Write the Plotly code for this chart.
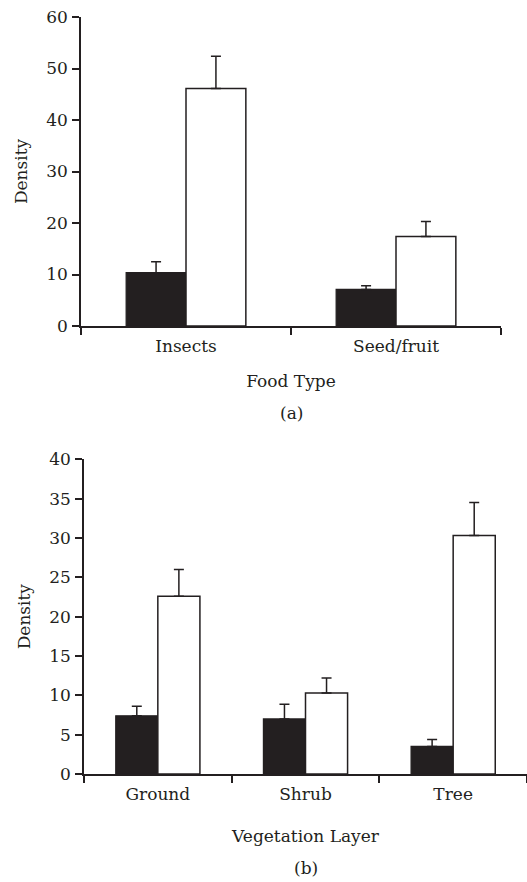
import plotly.graph_objects as go

# ---- data ----
food_types = ["Insects", "Seed/fruit"]
food_dark = [10.35, 7.1]
food_dark_err = [2.15, 0.7]
food_light = [46.1, 17.4]
food_light_err = [6.3, 2.9]

veg_layers = ["Ground", "Shrub", "Tree"]
veg_dark = [7.4, 7.0, 3.5]
veg_dark_err = [1.2, 1.85, 0.9]
veg_light = [22.6, 10.3, 30.3]
veg_light_err = [3.4, 1.9, 4.2]

top_ticks = [0, 10, 20, 30, 40, 50, 60]
bottom_ticks = [0, 5, 10, 15, 20, 25, 30, 35, 40]

W, H = 527, 882
INK = "#231f20"
FONT = "DejaVu Serif"

def px_x(p):
    return p / W

def px_y(p):
    return 1 - p / H

fig = go.Figure()

def add_pair(cats, dark, dark_err, light, light_err, xa, ya):
    fig.add_trace(go.Bar(
        x=cats, y=dark, name="Dark", xaxis=xa, yaxis=ya,
        marker=dict(color=INK, line=dict(color=INK, width=1.2)),
        error_y=dict(type="data", array=dark_err, arrayminus=[0] * len(dark),
                     symmetric=False, color=INK, thickness=1.5, width=5),
        showlegend=False))
    fig.add_trace(go.Bar(
        x=cats, y=light, name="Light", xaxis=xa, yaxis=ya,
        marker=dict(color="white", line=dict(color=INK, width=1.5)),
        error_y=dict(type="data", array=light_err, arrayminus=[0] * len(light),
                     symmetric=False, color=INK, thickness=1.5, width=5),
        showlegend=False))

add_pair(food_types, food_dark, food_dark_err, food_light, food_light_err, "x", "y")
add_pair(veg_layers, veg_dark, veg_dark_err, veg_light, veg_light_err, "x2", "y2")

axis_font = dict(family=FONT, size=17, color=INK)
common_x = dict(showline=True, linecolor=INK, linewidth=1.5, ticks="outside",
                ticklen=7, tickwidth=1.5, tickcolor=INK, tickson="boundaries",
                showgrid=False, zeroline=False, tickfont=axis_font,
                title_font=axis_font, fixedrange=True, automargin=False,
                ticklabelstandoff=4)
common_y = dict(showline=True, linecolor=INK, linewidth=1.5, ticks="outside",
                ticklen=7, tickwidth=1.5, tickcolor=INK, showgrid=False,
                zeroline=False, tickfont=axis_font, title_font=axis_font,
                fixedrange=True, automargin=False, ticklabelstandoff=1)

fig.update_layout(
    width=W, height=H,
    margin=dict(l=0, r=0, t=0, b=0),
    paper_bgcolor="white", plot_bgcolor="white",
    barmode="group", bargap=0.43, bargroupgap=0,
    font=dict(family=FONT, size=17, color=INK),
    xaxis=dict(common_x, domain=[px_x(81), px_x(501)], anchor="y",
               range=[-0.5, 1.5],
               title=dict(text="Food Type", standoff=20)),
    yaxis=dict(common_y, domain=[px_y(326), px_y(17)], anchor="x",
               range=[0, 60], tickvals=top_ticks,
               title=dict(text="Density", standoff=14)),
    xaxis2=dict(common_x, domain=[px_x(84), 1.0], anchor="y2",
                range=[-0.5, 2.5],
                title=dict(text="Vegetation Layer", standoff=27)),
    yaxis2=dict(common_y, domain=[px_y(774), px_y(459.3)], anchor="x2",
                range=[0, 40], tickvals=bottom_ticks,
                title=dict(text="Density", standoff=14)),
    annotations=[
        dict(text="(a)", x=px_x(291), y=px_y(413), xref="paper", yref="paper",
             showarrow=False, font=axis_font, xanchor="center", yanchor="middle"),
        dict(text="(b)", x=px_x(306), y=px_y(868), xref="paper", yref="paper",
             showarrow=False, font=axis_font, xanchor="center", yanchor="middle"),
    ],
)

fig.write_html("out.html")
